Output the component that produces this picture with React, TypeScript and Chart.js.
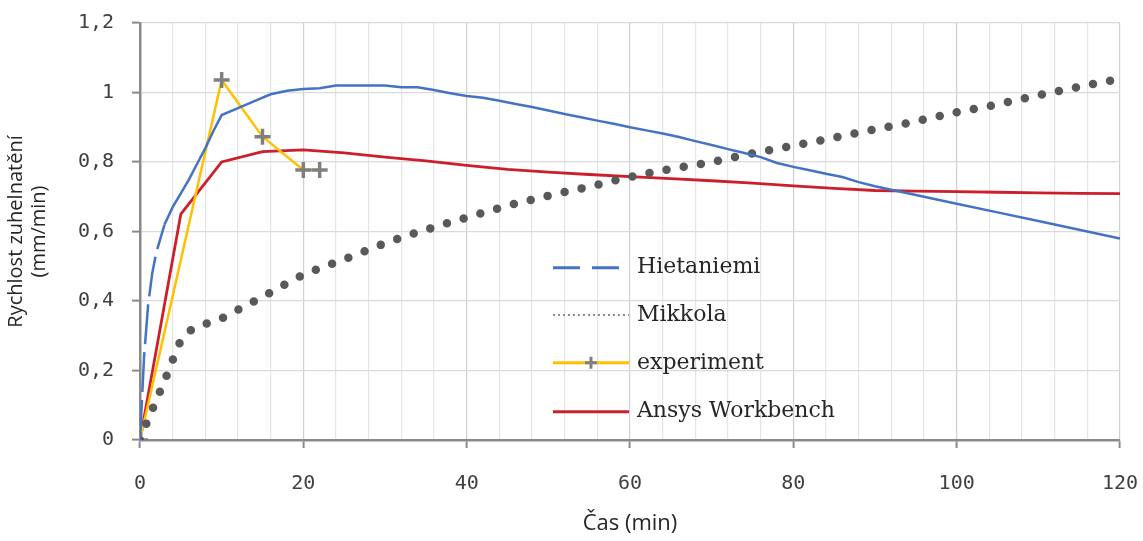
import React, { useEffect, useRef } from "react";
import { Chart, registerables } from "chart.js";

Chart.register(...registerables);

// Time axis (min)
const hietaniemiTime = [0, 0.5, 1, 1.5, 2, 3, 4, 5, 6, 7, 8, 9, 10, 12, 14, 16, 18, 20, 22, 24, 26, 28, 30, 32, 34, 36, 38, 40, 42, 44, 46, 48, 50, 52, 54, 56, 58, 60, 62, 64, 66, 68, 70, 72, 74, 76, 78, 80, 82, 84, 86, 88, 90, 92, 94, 96, 98, 100, 105, 110, 115, 120];
const hietaniemiRate = [0, 0.24, 0.39, 0.48, 0.54, 0.62, 0.67, 0.71, 0.75, 0.795, 0.84, 0.89, 0.935, 0.955, 0.975, 0.995, 1.005, 1.01, 1.012, 1.02, 1.02, 1.02, 1.02, 1.015, 1.015, 1.007, 0.998, 0.99, 0.985, 0.976, 0.967, 0.958, 0.948, 0.938, 0.929, 0.919, 0.91, 0.9, 0.891, 0.882, 0.872, 0.86, 0.849, 0.837, 0.826, 0.814, 0.797, 0.786, 0.776, 0.766, 0.757, 0.742, 0.73, 0.72, 0.71, 0.7, 0.69, 0.68, 0.655, 0.63, 0.605, 0.58];

const mikkolaTime = [0, 1, 2, 3, 4, 5, 10, 15, 20, 25, 30, 35, 40, 45, 50, 55, 60, 65, 70, 75, 80, 85, 90, 95, 100, 105, 110, 115, 120];
const mikkolaRate = [0, 0.06, 0.115, 0.17, 0.23, 0.285, 0.35, 0.412, 0.475, 0.52, 0.566, 0.605, 0.64, 0.674, 0.703, 0.729, 0.757, 0.78, 0.8, 0.825, 0.847, 0.87, 0.894, 0.917, 0.943, 0.966, 0.992, 1.016, 1.04];

const experimentTime = [0, 10, 15, 20, 22];
const experimentRate = [0, 1.036, 0.873, 0.777, 0.777];

const ansysTime = [0, 5, 10, 15, 20, 25, 30, 35, 40, 45, 50, 55, 60, 65, 70, 75, 80, 85, 90, 95, 100, 105, 110, 115, 120];
const ansysRate = [0, 0.65, 0.8, 0.83, 0.835, 0.826, 0.814, 0.803, 0.79, 0.779, 0.771, 0.764, 0.758, 0.752, 0.746, 0.739, 0.731, 0.724, 0.718, 0.716, 0.715, 0.713, 0.711, 0.71, 0.709];

const seriesNames = ["Hietaniemi", "Mikkola", "experiment", "Ansys Workbench"];

const xTitle = "Čas (min)";
const yTitle = ["Rychlost zuhelnatění", "(mm/min)"];

const BLUE = "#4472C4";
const GREY_DOT = "#595959";
const YELLOW = "#FFC000";
const MARKER = "#7F7F7F";
const RED = "#CC1F2A";

const pairs = (xs: number[], ys: number[]) => xs.map((x, i) => ({ x, y: ys[i] }));

const formatRate = (v: number) => {
  const s = (Math.round(v * 10) / 10).toString();
  return s.replace(".", ",");
};

// Legend drawn inside the plot area, Excel style
const insideLegend = {
  id: "insideLegend",
  afterDraw(chart: any) {
    const { ctx, chartArea } = chart;
    const w = chartArea.right - chartArea.left;
    const h = chartArea.bottom - chartArea.top;
    const x0 = chartArea.left + w * 0.4214;
    const lineLen = 76;
    const textX = x0 + 84;
    const rowY = [0.587, 0.7, 0.815, 0.932].map((f) => chartArea.top + h * f);
    ctx.save();
    ctx.font = '22px "DejaVu Serif"';
    ctx.fillStyle = "#262626";
    ctx.textBaseline = "middle";
    ctx.textAlign = "left";
    seriesNames.forEach((name, i) => {
      const y = rowY[i];
      ctx.save();
      if (i === 0) {
        ctx.strokeStyle = BLUE;
        ctx.lineWidth = 3;
        ctx.setLineDash([27, 12]);
        ctx.beginPath();
        ctx.moveTo(x0, y);
        ctx.lineTo(x0 + 66, y);
        ctx.stroke();
      } else if (i === 1) {
        ctx.strokeStyle = "#8C8C8C";
        ctx.lineWidth = 2;
        ctx.setLineDash([2, 3]);
        ctx.beginPath();
        ctx.moveTo(x0, y);
        ctx.lineTo(x0 + lineLen, y);
        ctx.stroke();
      } else if (i === 2) {
        ctx.strokeStyle = YELLOW;
        ctx.lineWidth = 3;
        ctx.beginPath();
        ctx.moveTo(x0, y);
        ctx.lineTo(x0 + lineLen, y);
        ctx.stroke();
        const cx = x0 + lineLen / 2;
        ctx.strokeStyle = MARKER;
        ctx.lineWidth = 3;
        ctx.beginPath();
        ctx.moveTo(cx - 6, y);
        ctx.lineTo(cx + 6, y);
        ctx.moveTo(cx, y - 6);
        ctx.lineTo(cx, y + 6);
        ctx.stroke();
      } else {
        ctx.strokeStyle = RED;
        ctx.lineWidth = 3;
        ctx.beginPath();
        ctx.moveTo(x0, y);
        ctx.lineTo(x0 + lineLen, y);
        ctx.stroke();
      }
      ctx.restore();
      ctx.fillText(name, textX, y);
    });
    ctx.restore();
  },
};

export default function App() {
  const canvasRef = useRef<HTMLCanvasElement | null>(null);

  useEffect(() => {
    if (!canvasRef.current) return;
    const chart = new Chart(canvasRef.current, {
      type: "line",
      data: {
        datasets: [
          {
            label: seriesNames[0],
            data: pairs(hietaniemiTime, hietaniemiRate),
            borderColor: BLUE,
            borderWidth: 2.5,
            pointRadius: 0,
            tension: 0,
            segment: {
              borderDash: (c: any) => (c.p0.parsed.x < 3 ? [40, 8] : undefined),
            },
          },
          {
            label: seriesNames[1],
            data: pairs(mikkolaTime, mikkolaRate),
            borderColor: GREY_DOT,
            borderWidth: 8.5,
            borderCapStyle: "round",
            borderDash: [0, 17.4],
            pointRadius: 0,
            tension: 0.4,
            cubicInterpolationMode: "monotone",
          },
          {
            label: seriesNames[2],
            data: pairs(experimentTime, experimentRate),
            borderColor: YELLOW,
            borderWidth: 2.5,
            pointStyle: "cross",
            pointRadius: 8,
            pointBorderWidth: 3.5,
            pointBorderColor: MARKER,
            pointBackgroundColor: MARKER,
            tension: 0,
          },
          {
            label: seriesNames[3],
            data: pairs(ansysTime, ansysRate),
            borderColor: RED,
            borderWidth: 2.8,
            pointRadius: 0,
            tension: 0,
          },
        ],
      },
      options: {
        animation: false,
        responsive: true,
        maintainAspectRatio: false,
        layout: { padding: { left: 0, top: 23, right: 23, bottom: 0 } },
        plugins: {
          legend: { display: false },
          tooltip: { enabled: false },
        },
        scales: {
          x: {
            type: "linear",
            min: 0,
            max: 120,
            afterFit: (s: any) => {
              s.height = 101;
              s.paddingLeft = 0;
              s.paddingRight = 0;
            },
            ticks: {
              stepSize: 4,
              autoSkip: false,
              maxRotation: 0,
              padding: 24,
              color: "#404040",
              font: { family: '"DejaVu Sans Mono"', size: 20 },
              callback: (v: any) => (Number(v) % 20 === 0 ? String(v) : ""),
            },
            grid: {
              color: (c: any) => (c.tick && c.tick.value % 20 === 0 ? "#CFCFCF" : "#E4E4E4"),
              lineWidth: 1.2,
              tickLength: 8,
              tickColor: (c: any) => (c.tick && c.tick.value % 20 === 0 ? "#8A8A8A" : "rgba(0,0,0,0)"),
              tickWidth: 2,
            },
            border: { color: "#8A8A8A", width: 2.5 },
            title: {
              display: true,
              text: xTitle,
              color: "#262626",
              font: { family: '"Open Sans"', size: 22 },
              padding: { top: 0, bottom: 4 },
            },
          },
          y: {
            min: 0,
            max: 1.2,
            afterFit: (s: any) => {
              s.width = 140;
              s.paddingTop = 0;
              s.paddingBottom = 0;
            },
            ticks: {
              stepSize: 0.2,
              padding: 18,
              color: "#404040",
              font: { family: '"DejaVu Sans Mono"', size: 20 },
              callback: (v: any) => formatRate(Number(v)),
            },
            grid: {
              color: "#DADADA",
              lineWidth: 1.2,
              tickLength: 8,
              tickColor: "#8A8A8A",
              tickWidth: 2,
            },
            border: { color: "#8A8A8A", width: 2.5 },
            title: {
              display: true,
              text: yTitle,
              color: "#262626",
              font: { family: '"Open Sans"', size: 20, lineHeight: 1.15 },
              padding: { top: 5, bottom: 0 },
            },
          },
        },
      },
      plugins: [insideLegend],
    } as any);
    return () => chart.destroy();
  }, []);

  return (
    <div style={{ position: "fixed", left: 0, top: 0, width: 1143, height: 541, background: "#ffffff" }}>
      <canvas ref={canvasRef} />
    </div>
  );
}
